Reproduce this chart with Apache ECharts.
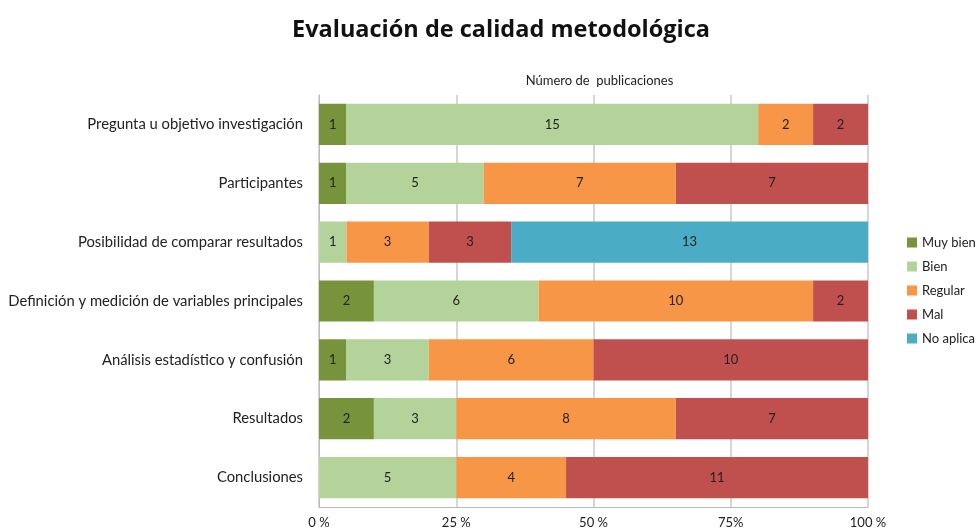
<!DOCTYPE html>
<html><head><meta charset="utf-8">
<script src="https://cdn.jsdelivr.net/npm/echarts@6/dist/echarts.min.js"></script>
<style>html,body{margin:0;padding:0;background:#fff}#c{width:977px;height:529px}</style>
</head><body><div id="c"></div>
<script>
const categories = ["Pregunta u objetivo investigación","Participantes","Posibilidad de comparar resultados","Definición y medición de variables principales","Análisis estadístico y confusión","Resultados","Conclusiones"];
const muyBien = [1,1,0,2,1,2,0];
const bien = [15,5,1,6,3,3,5];
const regular = [2,7,3,10,6,8,4];
const mal = [2,7,3,2,10,7,11];
const noAplica = [0,0,13,0,0,0,0];
const tickLabels = {0:"0 %",25:"25 %",50:"50 %",75:"75%",100:"100 %"};

const seriesDefs = [
  {name:"Muy bien", data:muyBien, color:"#77933C"},
  {name:"Bien", data:bien, color:"#B3D39A"},
  {name:"Regular", data:regular, color:"#F79646"},
  {name:"Mal", data:mal, color:"#C0504D"},
  {name:"No aplica", data:noAplica, color:"#4BACC6"}
];
const totals = categories.map((c,i)=>seriesDefs.reduce((s,d)=>s+d.data[i],0));
const font = "Lato, 'Open Sans', sans-serif";
const chart = echarts.init(document.getElementById('c'));
chart.setOption({
  animation:false,
  title:{text:"Evaluación de calidad metodológica",left:496,top:13,textAlign:'center',
    textStyle:{fontFamily:"'Open Sans', sans-serif",fontSize:23.5,fontWeight:'bold',color:'#111'}},
  legend:{orient:'vertical',left:902,top:231,itemGap:11,itemWidth:10,itemHeight:10,icon:'rect',
    textStyle:{fontFamily:font,fontSize:13,color:'#222'}},
  grid:{left:319,right:109,top:95,bottom:22,containLabel:false},
  xAxis:[{type:'value',min:0,max:100,interval:25,position:'bottom',
    axisLine:{show:true,lineStyle:{color:'#bbb'}},axisTick:{show:false},
    splitLine:{show:true,lineStyle:{color:'#c8c8c8',width:1.5}},
    axisLabel:{fontFamily:font,fontSize:13,color:'#222',margin:9,formatter:v=>tickLabels[v]}},
   {type:'value',min:0,max:100,interval:25,position:'top',
    name:"Número de  publicaciones",nameLocation:'middle',nameGap:8,
    nameTextStyle:{fontFamily:font,fontSize:13,color:'#222',padding:[0,0,0,12]},
    axisLine:{show:false},axisTick:{show:false},axisLabel:{show:false},splitLine:{show:false}}],
  yAxis:{type:'category',data:categories,inverse:true,
    axisLine:{show:true,lineStyle:{color:'#bbb'}},axisTick:{show:false},
    axisLabel:{fontFamily:font,fontSize:14.8,color:'#222',margin:16}},
  series:seriesDefs.map(d=>({
    name:d.name,type:'bar',stack:'all',barWidth:'70%',
    itemStyle:{color:d.color},
    label:{show:true,position:'inside',fontFamily:font,fontSize:13,color:'#222',
      formatter:p=>d.data[p.dataIndex]>0?String(d.data[p.dataIndex]):''},
    data:d.data.map((v,i)=>v/totals[i]*100)
  }))
});
</script></body></html>
